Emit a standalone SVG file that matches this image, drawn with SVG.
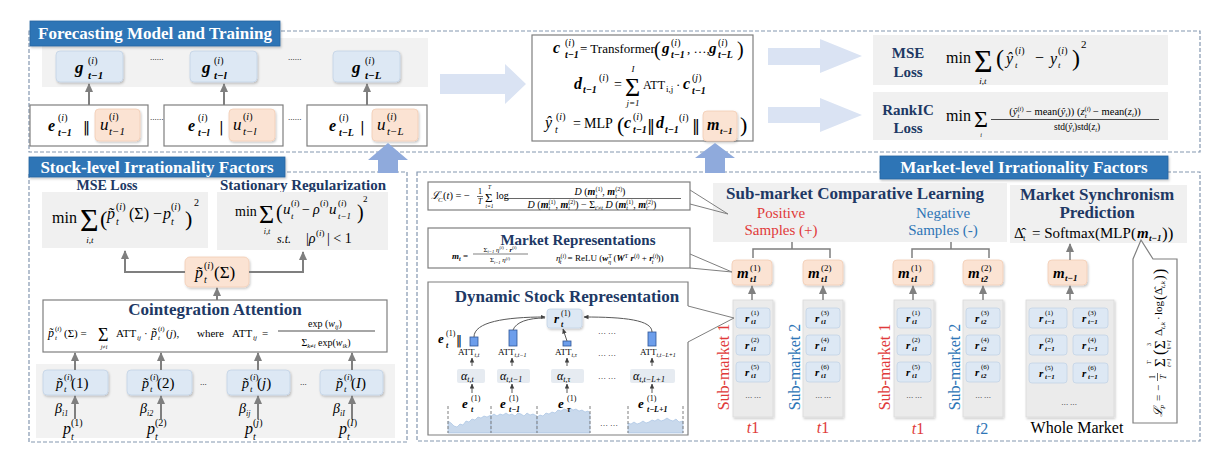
<svg xmlns="http://www.w3.org/2000/svg" width="1212" height="449" viewBox="0 0 1212 449">
<defs>
<style>
text{font-family:"Liberation Serif","DejaVu Serif",serif;fill:#000}
.i{font-style:italic}
.bi{font-style:italic;font-weight:bold}
.hd{font-weight:bold;fill:#203864}
.tabt{font-weight:bold;fill:#fff;font-size:17px}
.tab{fill:#2e75b6;stroke:#2a65a0;stroke-width:0.8}
.dash{fill:none;stroke:#8497b0;stroke-width:1.2;stroke-dasharray:4 2}
.grey{fill:#f0f0f0}
.col{fill:#ebebeb;stroke:#d9d9d9;stroke-width:0.8}
.wbox{fill:#fff;stroke:#7f7f7f;stroke-width:1.2}
.blue{fill:#dde8f4;stroke:#c3d3e6;stroke-width:0.8}
.peach{fill:#fbe3d3;stroke:#f2cdb5;stroke-width:0.8}
.alpha{fill:#e6ebf1}
.fat{fill:#dae3f3}
.up{fill:#8faadc}
.con{fill:none;stroke:#7f7f7f;stroke-width:2}
.thin{fill:none;stroke:#7f7f7f;stroke-width:1.5}
.co{fill:none;stroke:#7f7f7f;stroke-width:1}
.bar{fill:#6d9eeb;stroke:#2f5597;stroke-width:0.8}
.chart{fill:#c9d9ec;stroke:#9fbde0;stroke-width:0.6}
.vd{stroke:#7f7f7f;stroke-width:1;stroke-dasharray:3 2}
.red{fill:#e03a3a}
.blu{fill:#2e75b6}
.dk{fill:none;stroke:#595959;stroke-width:1}
.dv{font-family:"DejaVu Sans",sans-serif}
</style>
<marker id="ah" markerUnits="userSpaceOnUse" viewBox="0 0 10 10" refX="9" refY="5" markerWidth="9" markerHeight="9" orient="auto"><path d="M0,0.5 L10,5 L0,9.5 z" fill="#7f7f7f"/></marker>
<marker id="ahs" markerUnits="userSpaceOnUse" viewBox="0 0 10 10" refX="9" refY="5" markerWidth="5" markerHeight="5" orient="auto"><path d="M0,0.5 L10,5 L0,9.5 z" fill="#404040"/></marker>
<filter id="sh" x="-20%" y="-20%" width="150%" height="160%"><feDropShadow dx="1" dy="1.5" stdDeviation="1" flood-color="#000" flood-opacity="0.22"/></filter>
</defs>
<rect width="1212" height="449" fill="#fff"/>

<!-- ===== Forecasting Model and Training ===== -->
<g id="forecasting-panel">
 <rect class="dash" x="29" y="31" width="1171" height="121"/>
 <rect x="42" y="38" width="386" height="49" fill="#f2f2f2"/>
 <rect class="tab" x="30" y="21" width="250" height="25" filter="url(#sh)"/>
 <text class="tabt" x="155" y="39" text-anchor="middle">Forecasting Model and Training</text>
 <text x="150" y="60" font-size="9">......</text>
 <text x="288" y="60" font-size="9">......</text>
 <text x="150" y="120" font-size="9">......</text>
 <text x="288" y="120" font-size="9">......</text>
</g>
<g id="node-g1">
 <rect class="blue" x="56" y="51" width="67" height="31" rx="4" filter="url(#sh)"/>
 <text class="bi" x="75" y="73" font-size="17">g</text>
 <text x="88" y="64" font-size="10">(<tspan class="i">i</tspan>)</text>
 <text class="bi" x="88" y="79" font-size="11">t−1</text>
</g>
<g id="node-g2">
 <rect class="blue" x="190" y="51" width="67" height="31" rx="4" filter="url(#sh)"/>
 <text class="bi" x="202" y="73" font-size="17">g</text>
 <text x="214" y="64" font-size="10">(<tspan class="i">i</tspan>)</text>
 <text class="bi" x="214" y="79" font-size="11">t−l</text>
</g>
<g id="node-g3">
 <rect class="blue" x="333" y="51" width="67" height="31" rx="4" filter="url(#sh)"/>
 <text class="bi" x="352" y="73" font-size="17">g</text>
 <text x="365" y="64" font-size="10">(<tspan class="i">i</tspan>)</text>
 <text class="bi" x="365" y="79" font-size="11">t−L</text>
</g>
<g id="node-eu1">
 <rect class="wbox" x="30" y="105" width="118" height="41"/>
 <text class="bi" x="48" y="131" font-size="16">e</text>
 <text x="58" y="121" font-size="10">(<tspan class="i">i</tspan>)</text>
 <text class="bi" x="58" y="136" font-size="10">t−1</text>
 <text class="dv" x="83" y="132" font-size="14">‖</text>
 <rect class="peach" x="95" y="109" width="45" height="32" rx="4" filter="url(#sh)"/>
 <text class="i" x="100" y="130" font-size="17">u</text>
 <text x="109" y="120" font-size="10">(<tspan class="i">i</tspan>)</text>
 <text class="i" x="109" y="135" font-size="11">t−1</text>
</g>
<g id="node-eu2">
 <rect class="wbox" x="164" y="105" width="119" height="41"/>
 <text class="bi" x="188" y="131" font-size="16">e</text>
 <text x="198" y="121" font-size="10">(<tspan class="i">i</tspan>)</text>
 <text class="bi" x="198" y="136" font-size="10">t−l</text>
 <text class="dv" x="219" y="132" font-size="14">|</text>
 <rect class="peach" x="229" y="109" width="46" height="32" rx="4" filter="url(#sh)"/>
 <text class="i" x="233" y="130" font-size="17">u</text>
 <text x="243" y="120" font-size="10">(<tspan class="i">i</tspan>)</text>
 <text class="i" x="243" y="135" font-size="11">t−l</text>
</g>
<g id="node-eu3">
 <rect class="wbox" x="307" y="105" width="120" height="41"/>
 <text class="bi" x="329" y="131" font-size="16">e</text>
 <text x="339" y="121" font-size="10">(<tspan class="i">i</tspan>)</text>
 <text class="bi" x="339" y="136" font-size="10">t−L</text>
 <text class="dv" x="360" y="132" font-size="14">|</text>
 <rect class="peach" x="372" y="109" width="46" height="32" rx="4" filter="url(#sh)"/>
 <text class="i" x="377" y="130" font-size="17">u</text>
 <text x="387" y="120" font-size="10">(<tspan class="i">i</tspan>)</text>
 <text class="i" x="387" y="135" font-size="11">t−L</text>
</g>

<g id="forecast-equations">
 <rect class="wbox" x="532" y="35" width="221" height="106"/>
 <text class="bi" x="553" y="53" font-size="16">c</text>
 <text x="565" y="46" font-size="10">(<tspan class="i">i</tspan>)</text>
 <text class="bi" x="565" y="58" font-size="10">t−1</text>
 <text x="580" y="53" font-size="13">= Transformer</text>
 <text x="654" y="56" font-size="20">(</text>
 <text class="bi" x="662" y="53" font-size="15">g</text>
 <text x="671" y="46" font-size="10">(<tspan class="i">i</tspan>)</text>
 <text class="bi" x="671" y="58" font-size="10">t−1</text>
 <text x="687" y="53" font-size="13">, …,</text>
 <text class="bi" x="709" y="53" font-size="15">g</text>
 <text x="718" y="46" font-size="10">(<tspan class="i">i</tspan>)</text>
 <text class="bi" x="718" y="58" font-size="10">t−L</text>
 <text x="737" y="56" font-size="20">)</text>

 <text class="bi" x="574" y="89" font-size="16">d</text>
 <text class="bi" x="583" y="93" font-size="10">t−1</text>
 <text x="599" y="81" font-size="10">(<tspan class="i">i</tspan>)</text>
 <text x="614" y="89" font-size="14">=</text>
 <text x="625" y="96" font-size="26">Σ</text>
 <text class="i" x="633" y="72" font-size="9" text-anchor="middle">I</text>
 <text class="i" x="633" y="106" font-size="9" text-anchor="middle">j=1</text>
 <text x="643" y="89" font-size="12">ATT</text>
 <text x="666" y="92" font-size="9">i,j</text>
 <text x="676" y="89" font-size="13">·</text>
 <text class="bi" x="683" y="89" font-size="16">c</text>
 <text x="692" y="81" font-size="10">(<tspan class="i">j</tspan>)</text>
 <text class="bi" x="692" y="94" font-size="10">t−1</text>

 <text class="i" x="545" y="128" font-size="16">ŷ</text>
 <text x="556" y="120" font-size="10">(<tspan class="i">i</tspan>)</text>
 <text class="i" x="555" y="133" font-size="10">t</text>
 <text x="573" y="128" font-size="14">=</text>
 <text x="584" y="128" font-size="14">MLP</text>
 <text x="617" y="132" font-size="22">(</text>
 <text class="bi" x="624" y="128" font-size="16">c</text>
 <text x="633" y="120" font-size="10">(<tspan class="i">i</tspan>)</text>
 <text class="bi" x="633" y="133" font-size="10">t−1</text>
 <text class="dv" x="647" y="131" font-size="16">‖</text>
 <text class="bi" x="656" y="128" font-size="16">d</text>
 <text class="bi" x="665" y="133" font-size="10">t−1</text>
 <text x="679" y="121" font-size="10">(<tspan class="i">i</tspan>)</text>
 <text class="dv" x="692" y="131" font-size="16">‖</text>
 <rect class="peach" x="703" y="111" width="34" height="30" rx="4" filter="url(#sh)"/>
 <text class="bi" x="707" y="130" font-size="16">m</text>
 <text class="bi" x="720" y="134" font-size="9">t−1</text>
 <text x="740" y="132" font-size="22">)</text>
</g>

<g id="mse-loss">
 <rect class="grey" x="873" y="35" width="295" height="50"/>
 <text class="hd" x="908" y="58" font-size="15" text-anchor="middle">MSE</text>
 <text class="hd" x="908" y="77" font-size="15" text-anchor="middle">Loss</text>
 <text x="946" y="63" font-size="16">min</text>
 <text x="974" y="72" font-size="32">Σ</text>
 <text class="i" x="983" y="84" font-size="9" text-anchor="middle">i,t</text>
 <text x="996" y="66" font-size="24">(</text>
 <text class="i" x="1006" y="64" font-size="16">ŷ</text>
 <text x="1015" y="54" font-size="10">(<tspan class="i">i</tspan>)</text>
 <text class="i" x="1015" y="68" font-size="9">t</text>
 <text x="1035" y="63" font-size="16">−</text>
 <text class="i" x="1050" y="64" font-size="16">y</text>
 <text x="1058" y="54" font-size="10">(<tspan class="i">i</tspan>)</text>
 <text class="i" x="1058" y="68" font-size="9">t</text>
 <text x="1072" y="66" font-size="24">)</text>
 <text x="1081" y="48" font-size="11">2</text>
</g>
<g id="rankic-loss">
 <rect class="grey" x="873" y="92" width="295" height="48"/>
 <text class="hd" x="908" y="115" font-size="15" text-anchor="middle">RankIC</text>
 <text class="hd" x="908" y="133" font-size="15" text-anchor="middle">Loss</text>
 <text x="946" y="121" font-size="16">min</text>
 <text x="974" y="127" font-size="24">Σ</text>
 <text class="i" x="981" y="137" font-size="6" text-anchor="middle">i</text>
 <text x="1075" y="115" font-size="10.5" text-anchor="middle">(<tspan class="i">ŷ</tspan><tspan font-size="6.5" dy="-4">(<tspan class="i">i</tspan>)</tspan><tspan class="i" font-size="6.5" dx="-6" dy="7">t</tspan><tspan dx="4" dy="-3"> − mean(<tspan class="i">ŷ</tspan></tspan><tspan class="i" font-size="6.5" dy="2">t</tspan><tspan dy="-2">)) (<tspan class="i">z</tspan></tspan><tspan font-size="6.5" dy="-4">(<tspan class="i">i</tspan>)</tspan><tspan class="i" font-size="6.5" dx="-6" dy="7">t</tspan><tspan dx="4" dy="-3"> − mean(<tspan class="i">z</tspan></tspan><tspan class="i" font-size="6.5" dy="2">t</tspan><tspan dy="-2">))</tspan></text>
 <line x1="991" y1="119.5" x2="1159" y2="119.5" stroke="#000" stroke-width="0.7"/>
 <text x="1077" y="130" font-size="9.5" text-anchor="middle">std(<tspan class="i">ŷ</tspan><tspan class="i" font-size="6" dy="2">t</tspan><tspan dy="-2">)std(<tspan class="i">z</tspan></tspan><tspan class="i" font-size="6" dy="2">t</tspan><tspan dy="-2">)</tspan></text>
</g>

<!-- ===== Stock-level ===== -->
<g id="stock-level-panel">
 <rect class="dash" x="29" y="172" width="378" height="270"/>
 <rect class="tab" x="29" y="157" width="256" height="20" filter="url(#sh)"/>
 <text class="tabt" x="157" y="172.5" text-anchor="middle">Stock-level Irrationality Factors</text>
</g>
<g id="stock-mse-loss">
 <text class="hd" x="107" y="190" font-size="14" text-anchor="middle">MSE Loss</text>
 <rect class="grey" x="42" y="192" width="166" height="56"/>
 <text x="52" y="223" font-size="16">min</text>
 <text x="80" y="231" font-size="32">Σ</text>
 <text class="i" x="90" y="243" font-size="9" text-anchor="middle">i,t</text>
 <text x="100" y="226" font-size="22">(</text>
 <text class="i" x="107" y="219" font-size="16">p̃</text>
 <text x="116" y="210" font-size="10">(<tspan class="i">i</tspan>)</text>
 <text class="i" x="116" y="225" font-size="10">t</text>
 <text x="129" y="219" font-size="16">(Σ)</text>
 <text x="153" y="219" font-size="16">−</text>
 <text class="i" x="163" y="219" font-size="16">p</text>
 <text x="171" y="210" font-size="10">(<tspan class="i">i</tspan>)</text>
 <text class="i" x="171" y="225" font-size="10">t</text>
 <text x="185" y="226" font-size="22">)</text>
 <text x="194" y="206" font-size="10">2</text>
</g>
<g id="stationary-regularization">
 <text class="hd" x="303" y="190" font-size="15" text-anchor="middle">Stationary Regularization</text>
 <rect class="grey" x="217" y="192" width="171" height="58"/>
 <text x="235" y="216" font-size="14">min</text>
 <text x="259" y="223" font-size="26">Σ</text>
 <text class="i" x="267" y="234" font-size="8" text-anchor="middle">i,t</text>
 <text x="276" y="219" font-size="20">(</text>
 <text class="i" x="283" y="214" font-size="15">u</text>
 <text x="291" y="206" font-size="9">(<tspan class="i">i</tspan>)</text>
 <text class="i" x="291" y="219" font-size="9">t</text>
 <text x="302" y="214" font-size="14">−</text>
 <text class="i" x="313" y="214" font-size="14">ρ</text>
 <text x="320" y="206" font-size="9">(<tspan class="i">i</tspan>)</text>
 <text class="i" x="329" y="214" font-size="15">u</text>
 <text x="338" y="206" font-size="9">(<tspan class="i">i</tspan>)</text>
 <text class="i" x="338" y="219" font-size="9">t−1</text>
 <text x="357" y="219" font-size="20">)</text>
 <text x="363" y="202" font-size="9">2</text>
 <text class="i" x="277" y="243" font-size="12">s.t.</text>
 <text x="306" y="243" font-size="14">|<tspan class="i">ρ</tspan></text>
 <text x="316" y="236" font-size="9">(<tspan class="i">i</tspan>)</text>
 <text x="327" y="243" font-size="14">| &lt; 1</text>
</g>
<g id="node-p-sigma">
 <rect class="peach" x="185" y="257" width="64" height="30" rx="5" filter="url(#sh)"/>
 <text class="i" x="195" y="278" font-size="16">p̃</text>
 <text x="204" y="269" font-size="10">(<tspan class="i">i</tspan>)</text>
 <text class="i" x="204" y="283" font-size="10">t</text>
 <text x="214" y="278" font-size="17">(Σ)</text>
</g>
<g id="cointegration-attention">
 <rect class="wbox" x="43" y="300" width="344" height="52"/>
 <text class="hd" x="215" y="315" font-size="17" text-anchor="middle">Cointegration Attention</text>
 <text class="i" x="48" y="337" font-size="12">p̃</text>
 <text x="55" y="331" font-size="7">(<tspan class="i">i</tspan>)</text>
 <text class="i" x="55" y="340" font-size="7">t</text>
 <text x="64" y="337" font-size="11">(Σ) =</text>
 <text x="98" y="341" font-size="18">Σ</text>
 <text class="i" x="104" y="349" font-size="6" text-anchor="middle">j≠i</text>
 <text x="116" y="337" font-size="11">ATT</text>
 <text class="i" x="137" y="340" font-size="7">ij</text>
 <text x="144" y="337" font-size="11">·</text>
 <text class="i" x="151" y="337" font-size="12">p̃</text>
 <text x="158" y="331" font-size="7">(<tspan class="i">i</tspan>)</text>
 <text class="i" x="158" y="340" font-size="7">t</text>
 <text x="166" y="337" font-size="11">(<tspan class="i">j</tspan>),</text>
 <text x="197" y="337" font-size="11">where</text>
 <text x="232" y="337" font-size="11">ATT</text>
 <text class="i" x="253" y="340" font-size="7">ij</text>
 <text x="262" y="337" font-size="11">=</text>
 <text x="325" y="327" font-size="10" text-anchor="middle">exp (<tspan class="i">w</tspan><tspan class="i" font-size="6.5" dy="2">ij</tspan><tspan dy="-2">)</tspan></text>
 <line x1="278" y1="331" x2="375" y2="331" stroke="#000" stroke-width="0.7"/>
 <text x="326" y="346" font-size="10" text-anchor="middle">Σ<tspan class="i" font-size="6.5" dy="2">k≠i</tspan><tspan dy="-2"> exp(<tspan class="i">w</tspan></tspan><tspan class="i" font-size="6.5" dy="2">ik</tspan><tspan dy="-2">)</tspan></text>
</g>
<g id="p-band">
 <rect x="36" y="364" width="359" height="74" fill="#f2f2f2"/>
 <text x="200" y="385" font-size="9">...</text>
 <text x="300" y="385" font-size="9">...</text>
</g>
<g id="node-pt1">
 <rect class="blue" x="43" y="370" width="65" height="25" rx="4" filter="url(#sh)"/>
 <text class="i" x="56" y="388" font-size="14">p̃</text>
 <text x="64" y="380" font-size="9">(<tspan class="i">i</tspan>)</text>
 <text class="i" x="64" y="392" font-size="9">t</text>
 <text x="71" y="388" font-size="15">(1)</text>
 <text class="i" x="55" y="413" font-size="14">β</text>
 <text class="i" x="62" y="416" font-size="8">i1</text>
 <text class="i" x="63" y="434" font-size="16">p</text>
 <text x="71" y="426" font-size="10">(1)</text>
 <text class="i" x="71" y="440" font-size="10">t</text>
</g>
<g id="node-pt2">
 <rect class="blue" x="127" y="370" width="65" height="25" rx="4" filter="url(#sh)"/>
 <text class="i" x="142" y="388" font-size="14">p̃</text>
 <text x="150" y="380" font-size="9">(<tspan class="i">i</tspan>)</text>
 <text class="i" x="150" y="392" font-size="9">t</text>
 <text x="157" y="388" font-size="15">(2)</text>
 <text class="i" x="140" y="413" font-size="14">β</text>
 <text class="i" x="147" y="416" font-size="8">i2</text>
 <text class="i" x="147" y="434" font-size="16">p</text>
 <text x="155" y="426" font-size="10">(2)</text>
 <text class="i" x="155" y="440" font-size="10">t</text>
</g>
<g id="node-ptj">
 <rect class="blue" x="227" y="370" width="63" height="25" rx="4" filter="url(#sh)"/>
 <text class="i" x="242" y="388" font-size="14">p̃</text>
 <text x="250" y="380" font-size="9">(<tspan class="i">i</tspan>)</text>
 <text class="i" x="250" y="392" font-size="9">t</text>
 <text x="257" y="388" font-size="15">(<tspan class="i">j</tspan>)</text>
 <text class="i" x="239" y="413" font-size="14">β</text>
 <text class="i" x="246" y="416" font-size="8">ij</text>
 <text class="i" x="245" y="434" font-size="16">p</text>
 <text x="253" y="426" font-size="10">(<tspan class="i">j</tspan>)</text>
 <text class="i" x="253" y="440" font-size="10">t</text>
</g>
<g id="node-ptI">
 <rect class="blue" x="320" y="370" width="63" height="25" rx="4" filter="url(#sh)"/>
 <text class="i" x="336" y="388" font-size="14">p̃</text>
 <text x="344" y="380" font-size="9">(<tspan class="i">i</tspan>)</text>
 <text class="i" x="344" y="392" font-size="9">t</text>
 <text x="351" y="388" font-size="15">(<tspan class="i">I</tspan>)</text>
 <text class="i" x="333" y="413" font-size="14">β</text>
 <text class="i" x="340" y="416" font-size="8">iI</text>
 <text class="i" x="339" y="434" font-size="16">p</text>
 <text x="347" y="426" font-size="10">(<tspan class="i">I</tspan>)</text>
 <text class="i" x="347" y="440" font-size="10">t</text>
</g>

<!-- ===== Market-level ===== -->
<g id="market-level-panel">
 <rect class="dash" x="417" y="172" width="783" height="269"/>
 <rect class="tab" x="880" y="156" width="288" height="23" filter="url(#sh)"/>
 <text class="tabt" x="1024" y="173" text-anchor="middle">Market-level Irrationality Factors</text>
</g>
<g id="contrastive-loss">
 <rect class="wbox" x="428" y="182" width="262" height="28"/>
 <text class="i" x="431" y="199" font-size="11">ℒ</text>
 <text class="i" x="438" y="202" font-size="7">C</text>
 <text x="443" y="199" font-size="10.5">(<tspan class="i">t</tspan>) = −</text>
 <text x="480" y="194" font-size="8" text-anchor="middle">1</text>
 <line x1="477" y1="196.5" x2="483" y2="196.5" stroke="#000" stroke-width="0.6"/>
 <text class="i" x="480" y="204" font-size="8" text-anchor="middle">T</text>
 <text x="485" y="202" font-size="13">Σ</text>
 <text class="i" x="489.5" y="189" font-size="5.5" text-anchor="middle">T</text>
 <text class="i" x="489.5" y="208" font-size="5.5" text-anchor="middle">t=1</text>
 <text x="496" y="199" font-size="10">log</text>
 <text x="600" y="195" font-size="10" text-anchor="middle"><tspan class="i">D</tspan> (<tspan class="bi">m</tspan><tspan font-size="6" dy="-4">(1)</tspan><tspan class="i" font-size="6" dx="-7" dy="6.5">t</tspan><tspan dx="5.3" dy="-2.5">, </tspan><tspan class="bi">m</tspan><tspan font-size="6" dy="-4">(2)</tspan><tspan class="i" font-size="6" dx="-7" dy="6.5">t</tspan><tspan dx="5.3" dy="-2.5">)</tspan></text>
 <line x1="504" y1="198.5" x2="681" y2="198.5" stroke="#000" stroke-width="0.6"/>
 <text x="592" y="207.5" font-size="10" text-anchor="middle"><tspan class="i">D</tspan> (<tspan class="bi">m</tspan><tspan font-size="6" dy="-4">(1)</tspan><tspan class="i" font-size="6" dx="-7" dy="6.5">t</tspan><tspan dx="5.3" dy="-2.5">, </tspan><tspan class="bi">m</tspan><tspan font-size="6" dy="-4">(2)</tspan><tspan class="i" font-size="6" dx="-7" dy="6.5">t</tspan><tspan dx="5.3" dy="-2.5">) − Σ</tspan><tspan class="i" font-size="6" dy="2">t′≠t</tspan><tspan dy="-2"> </tspan><tspan class="i">D</tspan> (<tspan class="bi">m</tspan><tspan font-size="6" dy="-4">(1)</tspan><tspan class="i" font-size="6" dx="-7" dy="6.5">t</tspan><tspan dx="5.3" dy="-2.5">, </tspan><tspan class="bi">m</tspan><tspan font-size="6" dy="-4">(2)</tspan><tspan class="i" font-size="6" dx="-7" dy="6.5">t′</tspan><tspan dx="4" dy="-2.5">)</tspan></text>
</g>
<g id="market-representations">
 <rect class="wbox" x="428" y="228" width="262" height="40"/>
 <text class="hd" x="578" y="245" font-size="15" text-anchor="middle">Market Representations</text>
 <text class="bi" x="452" y="259" font-size="9">m<tspan font-size="6" dy="2">t</tspan><tspan dy="-2" font-weight="normal" font-style="normal"> =</tspan></text>
 <text x="500" y="251.5" font-size="7" text-anchor="middle">Σ<tspan class="i" font-size="4.5" dy="1.5">i=1</tspan><tspan dy="-1.5" class="i"> η</tspan><tspan font-size="4.5" dy="-2.5">(<tspan class="i">i</tspan>)</tspan><tspan dy="2.5"> · </tspan><tspan class="bi">r</tspan><tspan font-size="4.5" dy="-2.5">(<tspan class="i">i</tspan>)</tspan><tspan dy="2.5"/></text>
 <line x1="473" y1="254" x2="528" y2="254" stroke="#000" stroke-width="0.5"/>
 <text x="500" y="262" font-size="7" text-anchor="middle">Σ<tspan class="i" font-size="4.5" dy="1.5">i=1</tspan><tspan dy="-1.5" class="i"> η</tspan><tspan font-size="4.5" dy="-2.5">(<tspan class="i">i</tspan>)</tspan><tspan dy="2.5"/></text>
 <text x="556" y="261" font-size="9"><tspan class="i">η</tspan><tspan font-size="6" dy="-3.5">(<tspan class="i">i</tspan>)</tspan><tspan class="i" font-size="6" dx="-6.5" dy="6">t</tspan><tspan dx="4" dy="-2.5"> = ReLU (</tspan><tspan class="bi">w</tspan><tspan font-size="6" dy="-3.5">T</tspan><tspan class="i" font-size="6" dx="-3.6" dy="6">η</tspan><tspan dy="-2.5"> (</tspan><tspan class="bi">W</tspan><tspan font-size="6" dy="-3.5">T</tspan><tspan dy="3.5"> </tspan><tspan class="bi">r</tspan><tspan font-size="6" dy="-3.5">(<tspan class="i">i</tspan>)</tspan><tspan dy="3.5"> + </tspan><tspan class="bi">r</tspan><tspan font-size="6" dy="-3.5">(<tspan class="i">i</tspan>)</tspan><tspan class="i" font-size="6" dx="-6.5" dy="6">t</tspan><tspan dx="4" dy="-2.5">))</tspan></text>
</g>
<g id="dynamic-stock-representation">
 <path class="wbox" d="M688,306 V282 H428 V435 H688 V342"/>
 <text class="hd" x="567" y="302" font-size="17" text-anchor="middle">Dynamic Stock Representation</text>
 <rect class="blue" x="547" y="309" width="35" height="19" rx="3" filter="url(#sh)"/>
 <text class="bi" x="554" y="323" font-size="13">r</text>
 <text x="561" y="316" font-size="8">(1)</text>
 <text class="bi" x="561" y="327" font-size="8">t</text>
 <text class="bi" x="438" y="343" font-size="13">e</text>
 <text x="446" y="336" font-size="8">(1)</text>
 <text class="bi" x="446" y="348" font-size="8">t</text>
 <text class="dv" x="456" y="345" font-size="12">‖</text>
 <rect class="bar" x="470" y="337" width="8" height="9"/>
 <rect class="bar" x="509" y="330" width="8" height="16"/>
 <rect class="bar" x="563" y="341" width="8" height="5"/>
 <rect class="bar" x="648" y="332" width="8" height="14"/>
 <text x="458" y="355" font-size="9">ATT<tspan class="i" font-size="6" dy="2">t,t</tspan></text>
 <text x="498" y="355" font-size="9">ATT<tspan class="i" font-size="6" dy="2">t,t−1</tspan></text>
 <text x="555" y="355" font-size="9">ATT<tspan class="i" font-size="6" dy="2">t,τ</tspan></text>
 <text x="640" y="355" font-size="9">ATT<tspan class="i" font-size="6" dy="2">t,t−L+1</tspan></text>
 <rect class="alpha" x="457" y="369" width="28" height="14" rx="2"/>
 <rect class="alpha" x="497" y="369" width="33" height="14" rx="2"/>
 <rect class="alpha" x="551" y="369" width="33" height="14" rx="2"/>
 <rect class="alpha" x="630" y="369" width="45" height="14" rx="2"/>
 <text class="i" x="461" y="380" font-size="12">α<tspan font-size="8" dy="2">t,t</tspan></text>
 <text class="i" x="500" y="380" font-size="12">α<tspan font-size="8" dy="2">t,t−1</tspan></text>
 <text class="i" x="557" y="380" font-size="12">α<tspan font-size="8" dy="2">t,τ</tspan></text>
 <text class="i" x="633" y="380" font-size="12">α<tspan font-size="8" dy="2">t,t−L+1</tspan></text>
 <path class="chart" d="M448,433 V421 L451,423 L454,426 L457,427 L460,424 L463,425 L466,421 L469,422 L472,419 L475,420 L478,417 L481,418 L484,416 L487,417 L491,415 V433 Z"/>
 <path class="chart" d="M491,433 V416 L494,414 L497,416 L500,414 L503,415 L506,413 L509,415 L512,414 L515,416 L518,413 L521,414 L524,416 L527,413 L530,415 L533,414 L537,416 V433 Z"/>
 <path class="chart" d="M537,433 V417 L540,415 L543,416 L546,413 L549,414 L552,412 L555,413 L558,410 L561,411 L564,409 L567,410 L570,408 L573,410 L576,409 L579,411 L582,410 L585,412 L588,411 L590,413 V433 Z"/>
 <path class="chart" d="M628,433 V423 L631,424 L634,422 L637,424 L640,423 L643,421 L646,423 L649,422 L652,420 L655,421 L658,419 L661,421 L664,420 L667,418 L670,420 L673,421 L676,419 L679,422 L683,421 V433 Z"/>
 <line class="vd" x1="448" y1="406" x2="448" y2="433"/>
 <line class="vd" x1="491" y1="406" x2="491" y2="433"/>
 <line class="vd" x1="537" y1="406" x2="537" y2="433"/>
 <line class="vd" x1="590" y1="406" x2="590" y2="433"/>
 <line class="vd" x1="628" y1="406" x2="628" y2="433"/>
 <line class="vd" x1="683" y1="406" x2="683" y2="433"/>
 <text class="bi" x="462" y="408" font-size="13">e</text>
 <text x="471" y="401" font-size="8">(1)</text>
 <text class="bi" x="471" y="412" font-size="8">t</text>
 <text class="bi" x="500" y="408" font-size="13">e</text>
 <text x="509" y="401" font-size="8">(1)</text>
 <text class="bi" x="509" y="412" font-size="8">t−1</text>
 <text class="bi" x="558" y="408" font-size="13">e</text>
 <text x="567" y="401" font-size="8">(1)</text>
 <text class="bi" x="567" y="412" font-size="8">τ</text>
 <text class="bi" x="638" y="408" font-size="13">e</text>
 <text x="647" y="401" font-size="8">(1)</text>
 <text class="bi" x="647" y="412" font-size="8">t−L+1</text>
 <text x="607" y="334" font-size="8" text-anchor="middle">… …</text>
 <text x="607" y="356" font-size="8" text-anchor="middle">… …</text>
 <text x="607" y="379" font-size="8" text-anchor="middle">… …</text>
 <text x="609" y="426" font-size="8" text-anchor="middle">… …</text>
</g>

<g id="sub-market-comparative-learning">
 <rect class="grey" x="713" y="183" width="294" height="59"/>
 <text class="hd" x="855" y="199" font-size="17" text-anchor="middle">Sub-market Comparative Learning</text>
 <text class="red" x="781" y="218" font-size="15" text-anchor="middle">Positive</text>
 <text class="red" x="781" y="235" font-size="15" text-anchor="middle">Samples (+)</text>
 <text class="blu" x="943" y="218" font-size="15" text-anchor="middle">Negative</text>
 <text class="blu" x="943" y="235" font-size="15" text-anchor="middle">Samples (-)</text>
</g>
<g id="node-m-t1-1">
 <rect class="peach" x="732" y="260" width="40" height="25" rx="4" filter="url(#sh)"/>
 <text class="bi" x="737" y="278" font-size="15">m</text>
 <text x="750" y="271" font-size="9">(1)</text>
 <text class="bi" x="750" y="282" font-size="9">t1</text>
</g>
<g id="node-m-t1-2">
 <rect class="peach" x="803" y="260" width="40" height="25" rx="4" filter="url(#sh)"/>
 <text class="bi" x="808" y="278" font-size="15">m</text>
 <text x="821" y="271" font-size="9">(2)</text>
 <text class="bi" x="821" y="282" font-size="9">t1</text>
</g>
<g id="node-m-t1-1b">
 <rect class="peach" x="893" y="260" width="40" height="25" rx="4" filter="url(#sh)"/>
 <text class="bi" x="898" y="278" font-size="15">m</text>
 <text x="911" y="271" font-size="9">(1)</text>
 <text class="bi" x="911" y="282" font-size="9">t1</text>
</g>
<g id="node-m-t2-2">
 <rect class="peach" x="963" y="260" width="40" height="25" rx="4" filter="url(#sh)"/>
 <text class="bi" x="968" y="278" font-size="15">m</text>
 <text x="981" y="271" font-size="9">(2)</text>
 <text class="bi" x="981" y="282" font-size="9">t2</text>
</g>

<g id="col-sm1-t1">
 <rect class="col" x="733" y="300" width="40" height="117" filter="url(#sh)"/>
 <rect class="blue" x="736" y="308" width="34" height="20" rx="3"/>
 <rect class="blue" x="736" y="335" width="34" height="20" rx="3"/>
 <rect class="blue" x="736" y="362" width="34" height="20" rx="3"/>
 <text class="bi" x="745" y="322" font-size="11">r</text><text x="751" y="315" font-size="7">(1)</text><text class="bi" x="751" y="324" font-size="7">t1</text>
 <text class="bi" x="745" y="349" font-size="11">r</text><text x="751" y="342" font-size="7">(2)</text><text class="bi" x="751" y="351" font-size="7">t1</text>
 <text class="bi" x="745" y="376" font-size="11">r</text><text x="751" y="369" font-size="7">(5)</text><text class="bi" x="751" y="378" font-size="7">t1</text>
 <text x="753" y="398" font-size="7" text-anchor="middle">… …</text>
 <text class="red" font-size="16" text-anchor="middle" transform="translate(729,367) rotate(-90)">Sub-market 1</text>
 <text class="red" x="753" y="433" font-size="16" text-anchor="middle"><tspan class="i">t</tspan>1</text>
</g>
<g id="col-sm2-t1">
 <rect class="col" x="803" y="300" width="40" height="117" filter="url(#sh)"/>
 <rect class="blue" x="806" y="308" width="34" height="20" rx="3"/>
 <rect class="blue" x="806" y="335" width="34" height="20" rx="3"/>
 <rect class="blue" x="806" y="362" width="34" height="20" rx="3"/>
 <text class="bi" x="815" y="322" font-size="11">r</text><text x="821" y="315" font-size="7">(3)</text><text class="bi" x="821" y="324" font-size="7">t1</text>
 <text class="bi" x="815" y="349" font-size="11">r</text><text x="821" y="342" font-size="7">(4)</text><text class="bi" x="821" y="351" font-size="7">t1</text>
 <text class="bi" x="815" y="376" font-size="11">r</text><text x="821" y="369" font-size="7">(6)</text><text class="bi" x="821" y="378" font-size="7">t1</text>
 <text x="823" y="398" font-size="7" text-anchor="middle">… …</text>
 <text class="blu" font-size="16" text-anchor="middle" transform="translate(800,367) rotate(-90)">Sub-market 2</text>
 <text class="red" x="823" y="433" font-size="16" text-anchor="middle"><tspan class="i">t</tspan>1</text>
</g>
<g id="col-sm1-t1-neg">
 <rect class="col" x="894" y="300" width="40" height="117" filter="url(#sh)"/>
 <rect class="blue" x="897" y="308" width="34" height="20" rx="3"/>
 <rect class="blue" x="897" y="335" width="34" height="20" rx="3"/>
 <rect class="blue" x="897" y="362" width="34" height="20" rx="3"/>
 <text class="bi" x="906" y="322" font-size="11">r</text><text x="912" y="315" font-size="7">(1)</text><text class="bi" x="912" y="324" font-size="7">t1</text>
 <text class="bi" x="906" y="349" font-size="11">r</text><text x="912" y="342" font-size="7">(2)</text><text class="bi" x="912" y="351" font-size="7">t1</text>
 <text class="bi" x="906" y="376" font-size="11">r</text><text x="912" y="369" font-size="7">(5)</text><text class="bi" x="912" y="378" font-size="7">t1</text>
 <text x="914" y="398" font-size="7" text-anchor="middle">… …</text>
 <text class="red" font-size="16" text-anchor="middle" transform="translate(890,367) rotate(-90)">Sub-market 1</text>
 <text class="red" x="918" y="434" font-size="16" text-anchor="middle"><tspan class="i">t</tspan>1</text>
</g>
<g id="col-sm2-t2">
 <rect class="col" x="963" y="300" width="40" height="117" filter="url(#sh)"/>
 <rect class="blue" x="966" y="308" width="34" height="20" rx="3"/>
 <rect class="blue" x="966" y="335" width="34" height="20" rx="3"/>
 <rect class="blue" x="966" y="362" width="34" height="20" rx="3"/>
 <text class="bi" x="975" y="322" font-size="11">r</text><text x="981" y="315" font-size="7">(3)</text><text class="bi" x="981" y="324" font-size="7">t2</text>
 <text class="bi" x="975" y="349" font-size="11">r</text><text x="981" y="342" font-size="7">(4)</text><text class="bi" x="981" y="351" font-size="7">t2</text>
 <text class="bi" x="975" y="376" font-size="11">r</text><text x="981" y="369" font-size="7">(6)</text><text class="bi" x="981" y="378" font-size="7">t2</text>
 <text x="983" y="398" font-size="7" text-anchor="middle">… …</text>
 <text class="blu" font-size="16" text-anchor="middle" transform="translate(960,367) rotate(-90)">Sub-market 2</text>
 <text class="blu" x="982" y="434" font-size="16" text-anchor="middle"><tspan class="i">t</tspan>2</text>
</g>

<g id="market-synchronism-prediction">
 <rect class="grey" x="1010" y="185" width="177" height="58"/>
 <text class="hd" x="1097" y="200" font-size="17" text-anchor="middle">Market Synchronism</text>
 <text class="hd" x="1097" y="218" font-size="17" text-anchor="middle">Prediction</text>
 <text x="1014" y="238" font-size="15">Δ̂</text>
 <text x="1023" y="241" font-size="9">t</text>
 <text x="1032" y="238" font-size="15">= Softmax(MLP(</text>
 <text class="bi" x="1137" y="238" font-size="15">m</text>
 <text class="bi" x="1149" y="241" font-size="9">t−1</text>
 <text x="1162" y="239" font-size="17">))</text>
</g>
<g id="node-m-t-1">
 <rect class="peach" x="1048" y="260" width="39" height="25" rx="4" filter="url(#sh)"/>
 <text class="bi" x="1053" y="278" font-size="15">m</text>
 <text class="bi" x="1065" y="281" font-size="9">t−1</text>
</g>
<g id="whole-market">
 <rect class="col" x="1026" y="300" width="88" height="117" filter="url(#sh)"/>
 <rect class="blue" x="1029" y="308" width="38" height="20" rx="3"/>
 <rect class="blue" x="1073" y="308" width="35" height="20" rx="3"/>
 <rect class="blue" x="1029" y="335" width="38" height="20" rx="3"/>
 <rect class="blue" x="1073" y="335" width="35" height="20" rx="3"/>
 <rect class="blue" x="1029" y="363" width="38" height="20" rx="3"/>
 <rect class="blue" x="1073" y="363" width="35" height="20" rx="3"/>
 <text class="bi" x="1039" y="322" font-size="11">r</text><text x="1045" y="315" font-size="7">(1)</text><text class="bi" x="1045" y="324" font-size="7">t−1</text>
 <text class="bi" x="1082" y="322" font-size="11">r</text><text x="1088" y="315" font-size="7">(3)</text><text class="bi" x="1088" y="324" font-size="7">t−1</text>
 <text class="bi" x="1039" y="349" font-size="11">r</text><text x="1045" y="342" font-size="7">(2)</text><text class="bi" x="1045" y="351" font-size="7">t−1</text>
 <text class="bi" x="1082" y="349" font-size="11">r</text><text x="1088" y="342" font-size="7">(4)</text><text class="bi" x="1088" y="351" font-size="7">t−1</text>
 <text class="bi" x="1039" y="377" font-size="11">r</text><text x="1045" y="370" font-size="7">(5)</text><text class="bi" x="1045" y="379" font-size="7">t−1</text>
 <text class="bi" x="1082" y="377" font-size="11">r</text><text x="1088" y="370" font-size="7">(6)</text><text class="bi" x="1088" y="379" font-size="7">t−1</text>
 <text x="1069" y="405" font-size="7" text-anchor="middle">… …</text>
 <text x="1077" y="433" font-size="16" text-anchor="middle">Whole Market</text>
</g>
<g id="sync-loss">
 <path class="wbox" d="M1133,259 L1141,240 L1153,259 L1177,259 L1177,423 L1133,423 Z"/>
 <g transform="translate(1156,341) rotate(-90)">
  <text class="i" x="-76" y="6" font-size="12">ℒ</text>
  <text class="i" x="-68" y="9" font-size="7">P</text>
  <text x="-60" y="6" font-size="11">=</text>
  <text x="-50" y="6" font-size="11">−</text>
  <text x="-36" y="-1" font-size="8" text-anchor="middle">1</text>
  <line x1="-40" y1="1.5" x2="-32" y2="1.5" stroke="#000" stroke-width="0.6"/>
  <text class="i" x="-36" y="10" font-size="8" text-anchor="middle">T</text>
  <text x="-26" y="9" font-size="15">Σ</text>
  <text class="i" x="-21.5" y="-5" font-size="6" text-anchor="middle">T</text>
  <text class="i" x="-21.5" y="15" font-size="6" text-anchor="middle">t=1</text>
  <text x="-14" y="9" font-size="16">(</text>
  <text x="-8" y="9" font-size="15">Σ</text>
  <text x="-3.5" y="-5" font-size="6" text-anchor="middle">3</text>
  <text class="i" x="-3.5" y="15" font-size="6" text-anchor="middle">k=1</text>
  <text x="5" y="6" font-size="11">Δ</text>
  <text class="i" x="12" y="9" font-size="7">t,k</text>
  <text x="21" y="6" font-size="11">·</text>
  <text x="26" y="6" font-size="11">log</text>
  <text x="41" y="8" font-size="14">(</text>
  <text x="46" y="6" font-size="11">Δ̂</text>
  <text class="i" x="53" y="9" font-size="7">t,k</text>
  <text x="61" y="8" font-size="14">)</text>
  <text x="67" y="9" font-size="16">)</text>
 </g>
</g>

<!-- ===== Connectors ===== -->
<g id="connectors">
 <line class="con" x1="89" y1="105" x2="89" y2="84" marker-end="url(#ah)"/>
 <line class="con" x1="224" y1="105" x2="224" y2="84" marker-end="url(#ah)"/>
 <line class="con" x1="367" y1="105" x2="367" y2="84" marker-end="url(#ah)"/>
 <polygon class="fat" points="440,74 505,74 505,64 526,84 505,104 505,94 440,94"/>
 <polygon class="fat" points="768,48 820,48 820,39 862,56 820,73 820,65 768,65"/>
 <polygon class="fat" points="768,107 820,107 820,98 862,115 820,132 820,123 768,123"/>
 <polygon class="up" points="388,143 408,160 398,160 398,173 378,173 378,160 368,160"/>
 <polygon class="up" points="715,143 735,158 725,158 725,173 705,173 705,158 695,158"/>
 <path class="con" d="M185,272 H125 V251" marker-end="url(#ah)"/>
 <path class="con" d="M249,272 H303 V252" marker-end="url(#ah)"/>
 <line class="con" x1="217" y1="300" x2="217" y2="288" marker-end="url(#ah)"/>
 <line class="con" x1="75" y1="370" x2="75" y2="353" marker-end="url(#ah)"/>
 <line class="con" x1="161" y1="370" x2="161" y2="353" marker-end="url(#ah)"/>
 <line class="con" x1="258" y1="370" x2="258" y2="353" marker-end="url(#ah)"/>
 <line class="con" x1="352" y1="370" x2="352" y2="353" marker-end="url(#ah)"/>
 <line class="con" x1="75" y1="419" x2="75" y2="396" marker-end="url(#ah)"/>
 <line class="con" x1="161" y1="419" x2="161" y2="396" marker-end="url(#ah)"/>
 <line class="con" x1="258" y1="419" x2="258" y2="396" marker-end="url(#ah)"/>
 <line class="con" x1="352" y1="419" x2="352" y2="396" marker-end="url(#ah)"/>
 <polyline class="co" points="690,190 728,214 690,204"/>
 <polyline class="co" points="690,254 732,272 690,268"/>
 <polyline class="co" points="688,306 734,318 688,342"/>
 <path class="dk" d="M474,337 C474,322 505,317 545,317" marker-end="url(#ahs)"/>
 <path class="dk" d="M513,330 C516,322 528,318 545,318"/>
 <line class="dk" x1="567" y1="341" x2="563" y2="329" marker-end="url(#ahs)"/>
 <path class="dk" d="M652,332 C652,320 625,317 584,317" marker-end="url(#ahs)"/>
 <line class="dk" x1="472" y1="366" x2="472" y2="358" marker-end="url(#ahs)"/>
 <line class="dk" x1="512" y1="366" x2="512" y2="358" marker-end="url(#ahs)"/>
 <line class="dk" x1="567" y1="366" x2="567" y2="358" marker-end="url(#ahs)"/>
 <line class="dk" x1="652" y1="366" x2="652" y2="358" marker-end="url(#ahs)"/>
 <line class="dk" x1="472" y1="393" x2="472" y2="384" marker-end="url(#ahs)"/>
 <line class="dk" x1="512" y1="393" x2="512" y2="384" marker-end="url(#ahs)"/>
 <line class="dk" x1="567" y1="393" x2="567" y2="384" marker-end="url(#ahs)"/>
 <line class="dk" x1="652" y1="393" x2="652" y2="384" marker-end="url(#ahs)"/>
 <path class="thin" d="M792,242 V249 M753,258 V249 H830 V258"/>
 <path class="thin" d="M951,242 V249 M912,258 V249 H989 V258"/>
 <line class="thin" x1="752" y1="300" x2="752" y2="286" marker-end="url(#ah)"/>
 <line class="thin" x1="823" y1="300" x2="823" y2="286" marker-end="url(#ah)"/>
 <line class="thin" x1="913" y1="300" x2="913" y2="286" marker-end="url(#ah)"/>
 <line class="thin" x1="983" y1="300" x2="983" y2="286" marker-end="url(#ah)"/>
 <line class="thin" x1="1070" y1="300" x2="1070" y2="286" marker-end="url(#ah)"/>
 <line class="thin" x1="1070" y1="260" x2="1070" y2="244" marker-end="url(#ah)"/>
</g>
</svg>
